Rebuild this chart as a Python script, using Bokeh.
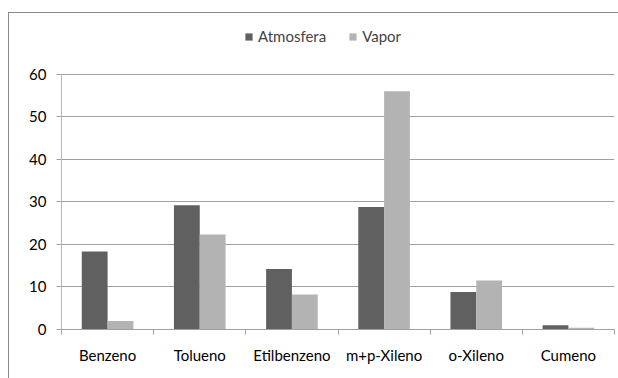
from bokeh.plotting import figure
from bokeh.models import Range1d, FixedTicker, Legend, LegendItem, ColumnDataSource
from bokeh.embed import file_html
from bokeh.resources import INLINE

categories = ["Benzeno", "Tolueno", "Etilbenzeno", "m+p-Xileno", "o-Xileno", "Cumeno"]
atmosfera = [18.3, 29.2, 14.2, 28.8, 8.8, 1.0]
vapor = [2.0, 22.3, 8.2, 56.0, 11.5, 0.4]
series_names = ["Atmosfera", "Vapor"]
y_ticks = [0, 10, 20, 30, 40, 50, 60]

FONT = "Lato"
FS = "15px"
DARK = "#606060"
LIGHT = "#b3b3b3"
GRID = "#a0a0a0"

idx = list(range(len(categories)))
src = ColumnDataSource(dict(
    x_a=[i + 0.5 - 0.14 for i in idx],
    x_v=[i + 0.5 + 0.14 for i in idx],
    atm=atmosfera, vap=vapor,
))

# frame extends above 60 to leave room for the legend inside the frame
p = figure(width=610, height=366, output_backend="svg", toolbar_location=None,
           x_range=Range1d(0, len(categories)), y_range=Range1d(0, 71.9))
p.margin = (12, 0, 0, 8)
p.styles = {"border-left": "1px solid #8a8a8a", "border-top": "1px solid #8a8a8a",
            "box-sizing": "border-box"}
p.min_border_left = 52
p.min_border_top = 10
p.min_border_right = 5
p.min_border_bottom = 50
p.outline_line_color = None
p.background_fill_color = "white"
p.border_fill_color = "white"

r1 = p.vbar(x="x_a", top="atm", width=0.28, source=src, fill_color=DARK, line_color=None)
r2 = p.vbar(x="x_v", top="vap", width=0.28, source=src, fill_color=LIGHT, line_color=None)

p.xgrid.visible = False
p.ygrid.grid_line_color = GRID
p.ygrid.grid_line_width = 1
p.yaxis.ticker = FixedTicker(ticks=y_ticks)
p.yaxis.bounds = (0, 60)
p.yaxis.axis_line_color = "#b8b8b8"
p.yaxis.major_tick_line_color = GRID
p.yaxis.major_tick_out = 5
p.yaxis.major_tick_in = 0
p.yaxis.minor_tick_line_color = None
p.yaxis.major_label_text_font = FONT
p.yaxis.major_label_text_font_size = FS
p.yaxis.major_label_text_color = "#000000"
p.yaxis.major_label_standoff = 10

p.xaxis.ticker = FixedTicker(ticks=[i + 0.5 for i in idx], minor_ticks=list(range(len(categories) + 1)))
p.xaxis.major_label_overrides = {i + 0.5: c for i, c in zip(idx, categories)}
p.xaxis.axis_line_color = GRID
p.xaxis.major_tick_line_color = None
p.xaxis.major_tick_out = 0
p.xaxis.major_tick_in = 0
p.xaxis.minor_tick_line_color = GRID
p.xaxis.minor_tick_out = 5
p.xaxis.minor_tick_in = 0
p.xaxis.major_label_text_font = FONT
p.xaxis.major_label_text_font_size = FS
p.xaxis.major_label_text_color = "#000000"
p.xaxis.major_label_standoff = 11

legend = Legend(items=[LegendItem(label=series_names[0], renderers=[r1]),
                       LegendItem(label=series_names[1], renderers=[r2])],
                orientation="horizontal", location=(183, 284),
                label_text_font=FONT, label_text_font_size=FS,
                glyph_width=9, glyph_height=9, label_standoff=5, spacing=22,
                padding=0, margin=0, border_line_color=None,
                background_fill_alpha=0, label_height=14)
p.add_layout(legend, "center")

open("out.html", "w").write(file_html(p, INLINE))
